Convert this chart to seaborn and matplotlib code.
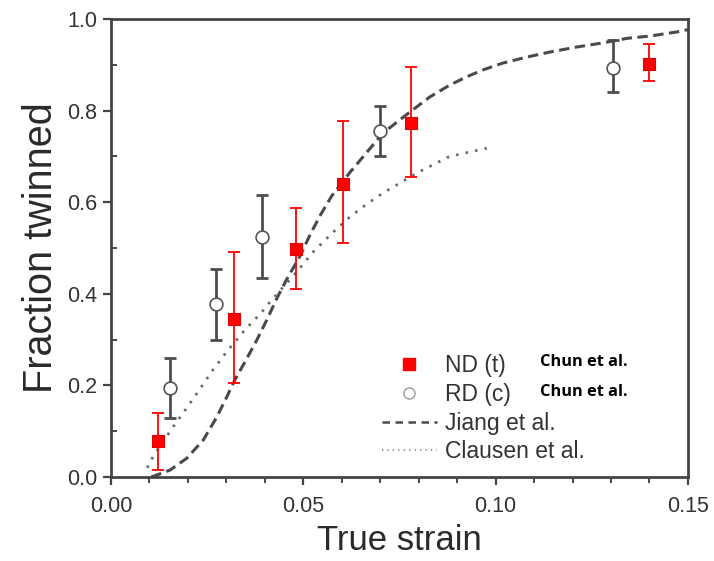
import numpy as np
import pandas as pd
import matplotlib
matplotlib.use("Agg")
import matplotlib.pyplot as plt
from matplotlib.lines import Line2D
from matplotlib.ticker import MultipleLocator
import seaborn as sns

# ---- data ----
nd_strain = [0.0122, 0.032, 0.048, 0.0603, 0.078, 0.140]
nd_frac   = [0.079, 0.345, 0.498, 0.640, 0.773, 0.902]
nd_low    = [0.015, 0.205, 0.410, 0.510, 0.655, 0.865]
nd_high   = [0.140, 0.492, 0.588, 0.778, 0.895, 0.945]

rd_strain = [0.0153, 0.0273, 0.0393, 0.070, 0.1305]
rd_frac   = [0.194, 0.378, 0.524, 0.755, 0.893]
rd_low    = [0.128, 0.300, 0.435, 0.700, 0.840]
rd_high   = [0.260, 0.455, 0.615, 0.810, 0.955]

jiang_strain = [0.0105, 0.0153, 0.0197, 0.024, 0.0275, 0.0301, 0.0322, 0.0348,
                0.0379, 0.0405, 0.0431, 0.0457, 0.0491, 0.0517, 0.0543, 0.0574,
                0.0621, 0.0707, 0.0777, 0.0829, 0.0881, 0.0925, 0.0967, 0.1019,
                0.1081, 0.1141, 0.1211, 0.1279, 0.1342, 0.1402, 0.1472, 0.150]
jiang_frac   = [0.000, 0.015, 0.041, 0.081, 0.131, 0.175, 0.212, 0.251,
                0.299, 0.343, 0.390, 0.432, 0.482, 0.528, 0.570, 0.614,
                0.665, 0.751, 0.797, 0.830, 0.856, 0.874, 0.889, 0.904,
                0.917, 0.928, 0.939, 0.948, 0.958, 0.963, 0.972, 0.977]

clausen_strain = [0.0094, 0.0109, 0.0161, 0.0197, 0.0231, 0.0265, 0.0304, 0.0348,
                  0.0392, 0.0413, 0.0448, 0.0483, 0.0525, 0.0574, 0.0621, 0.0668,
                  0.0707, 0.0795, 0.088, 0.0977]
clausen_frac   = [0.020, 0.044, 0.109, 0.151, 0.192, 0.234, 0.277, 0.321,
                  0.360, 0.382, 0.415, 0.448, 0.491, 0.532, 0.568, 0.598,
                  0.620, 0.664, 0.700, 0.718]

x_ticks = [0.00, 0.05, 0.10, 0.15]
y_ticks = [0.0, 0.2, 0.4, 0.6, 0.8, 1.0]
x_label = "True strain"
y_label = "Fraction twinned"
legend_labels = ["ND (t)", "RD (c)", "Jiang et al.", "Clausen et al."]
note_text = "Chun et al."

# ---- style ----
sns.set_style("ticks")
plt.rcParams['font.family'] = ['Liberation Sans', 'DejaVu Sans']

RED = "#ff0000"
GRAY = "#4d4d4d"
SPINE = "#454545"

fig = plt.figure(figsize=(7.14, 5.61), dpi=100)
ax = fig.add_axes([0.1555, 0.1497, 0.808, 0.8163])

jiang = pd.DataFrame({"x": jiang_strain, "y": jiang_frac})
clausen = pd.DataFrame({"x": clausen_strain, "y": clausen_frac})
sns.lineplot(data=jiang, x="x", y="y", ax=ax, color="#4a4a4a", lw=2.2,
             linestyle=(0, (3.4, 1.8)), sort=True, zorder=2)
sns.lineplot(data=clausen, x="x", y="y", ax=ax, color="#6a6a6a", lw=2.0,
             linestyle=(0, (0.9, 2.6)), sort=True, zorder=2)

# error bars
nd_err = [np.array(nd_frac) - np.array(nd_low), np.array(nd_high) - np.array(nd_frac)]
rd_err = [np.array(rd_frac) - np.array(rd_low), np.array(rd_high) - np.array(rd_frac)]
ax.errorbar(rd_strain, rd_frac, yerr=rd_err, fmt="none", ecolor=GRAY,
            elinewidth=2.0, capsize=4.5, capthick=2.0, zorder=3)
ax.errorbar(nd_strain, nd_frac, yerr=nd_err, fmt="none", ecolor=RED,
            elinewidth=1.3, capsize=4, capthick=1.3, zorder=3)

nd = pd.DataFrame({"x": nd_strain, "y": nd_frac})
rd = pd.DataFrame({"x": rd_strain, "y": rd_frac})
sns.scatterplot(data=rd, x="x", y="y", ax=ax, marker="o", s=85,
                facecolor="white", edgecolor="#555555", linewidth=1.2, zorder=4)
sns.scatterplot(data=nd, x="x", y="y", ax=ax, marker="s", s=70,
                color=RED, edgecolor="#dd0000", linewidth=0.8, zorder=5)

ax.set_xlim(0.0, 0.15)
ax.set_ylim(0.0, 1.0)
ax.set_xticks(x_ticks)
ax.set_xticklabels([f"{v:.2f}" for v in x_ticks])
ax.set_yticks(y_ticks)
ax.set_yticklabels([f"{v:.1f}" for v in y_ticks])
ax.xaxis.set_minor_locator(MultipleLocator(0.01))
ax.yaxis.set_minor_locator(MultipleLocator(0.1))
ax.tick_params(which="major", direction="out", length=6, width=1.6,
               color=SPINE, labelsize=15.5, labelcolor="#333333", pad=4)
ax.tick_params(axis="x", which="minor", direction="out", length=4, width=1.4, color=SPINE)
ax.tick_params(axis="y", which="minor", direction="in", length=4, width=1.4, color=SPINE)
ax.tick_params(axis="x", pad=8)

for s in ax.spines.values():
    s.set_color(SPINE)
    s.set_linewidth(2.0)
    s.set_visible(True)

ax.set_xlabel(x_label, fontsize=25, color="#2a2a2a", labelpad=5)
ax.set_ylabel(y_label, fontsize=28.5, color="#2a2a2a", labelpad=5)

handles = [
    Line2D([], [], marker="s", color=RED, linestyle="none", markersize=8),
    Line2D([], [], marker="o", markerfacecolor="white", markeredgecolor="#999999",
           linestyle="none", markersize=8),
    Line2D([], [], color="#4a4a4a", lw=1.8, linestyle=(0, (3, 2.2))),
    Line2D([], [], color="#8a8a8a", lw=1.4, linestyle=(0, (0.6, 2.2))),
]
leg = ax.legend(handles, legend_labels, loc="lower left",
                bbox_to_anchor=(0.445, 0.0), frameon=False, fontsize=16.5,
                handlelength=2.4, handletextpad=0.35, labelspacing=0.25,
                borderaxespad=0.2)
for t in leg.get_texts():
    t.set_color("#333333")

fig.text(0.757, 0.354, note_text, fontsize=11.8, fontweight="bold",
         color="black", family=["Open Sans", "DejaVu Sans"], va="center")
fig.text(0.757, 0.302, note_text, fontsize=11.8, fontweight="bold",
         color="black", family=["Open Sans", "DejaVu Sans"], va="center")

fig.savefig("out.png", dpi=100)
